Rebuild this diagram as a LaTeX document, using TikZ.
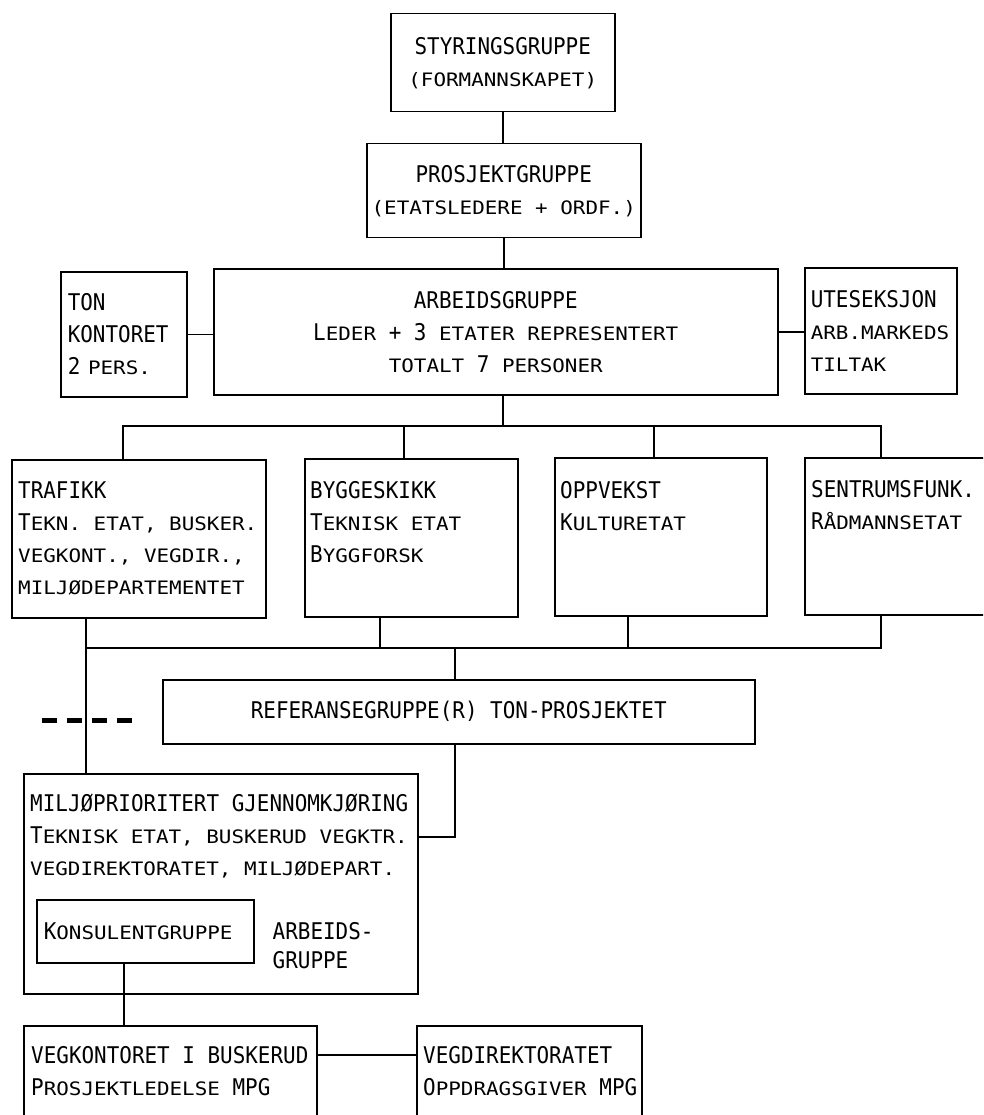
\documentclass[tikz,border=0pt]{standalone}
\usepackage{fontspec}
\setmainfont[FakeStretch=0.91]{DejaVu Sans Mono}
\newfontfamily\scfont[FakeStretch=1.13]{DejaVu Sans Mono}
\newcommand\mainsize{\fontsize{23}{32}\selectfont}
\newcommand\sm[1]{{\scfont\fontsize{18.5}{32}\selectfont #1}}
\tikzset{
  box/.style={draw,line width=1.5pt,inner sep=0pt,anchor=north west,font=\mainsize},
  txt/.style={inner sep=0pt,anchor=north west,align=left,font=\mainsize},
  link/.style={line width=1.5pt},
}
\begin{document}
\begin{tikzpicture}[x=1pt,y=-1pt]
  \useasboundingbox[fill=white] (0,0) rectangle (983,1115);
  \clip (0,0) rectangle (983,1115);
  % top groups
  \node[box,minimum width=224pt,minimum height=98pt,align=center] (styr) at (390,13) {STYRINGSGRUPPE\\\sm{(FORMANNSKAPET)}};
  \node[box,minimum width=274pt,minimum height=94pt,align=center] (prosj) at (366,143) {PROSJEKTGRUPPE\\\sm{(ETATSLEDERE + ORDF.)}};
  \node[box,minimum width=564pt,minimum height=126pt,align=center] (arb) at (213,268) {ARBEIDSGRUPPE\\L\sm{EDER} + 3 \sm{ETATER REPRESENTERT}\\\sm{TOTALT} 7 \sm{PERSONER}};
  \node[box,minimum width=126pt,minimum height=125pt,text width=112pt,align=left] (ton) at (60,271) {TON\\KONTORET\\2 \sm{PERS.}};
  \node[box,minimum width=152pt,minimum height=126pt,text width=140pt,align=left] (ute) at (804,267) {UTESEKSJON\\\sm{ARB.MARKEDS}\\\sm{TILTAK}};

  % etater
  \node[box,minimum width=254pt,minimum height=158pt] (traf) at (11,459) {};
  \node[box,minimum width=213pt,minimum height=158pt] (bygg) at (304,458) {};
  \node[box,minimum width=212pt,minimum height=158pt] (oppv) at (554,457) {};
  \node[box,minimum width=206pt,minimum height=157pt] (sentr) at (804,457) {};
  \node[txt] (trafT) at ([xshift=7pt,yshift=-17pt]traf.north west) {\strut TRAFIKK\\T\sm{EKN. ETAT, BUSKER.}\\\sm{VEGKONT., VEGDIR.,}\\\sm{MILJØDEPARTEMENTET}};
  \node[txt] (byggT) at ([xshift=6pt,yshift=-18pt]bygg.north west) {\strut BYGGESKIKK\\T\sm{EKNISK ETAT}\\B\sm{YGGFORSK}};
  \node[txt] (oppvT) at ([xshift=6pt,yshift=-19pt]oppv.north west) {\strut OPPVEKST\\K\sm{ULTURETAT}};
  \node[txt] (sentrT) at ([xshift=7pt,yshift=-18pt]sentr.north west) {\strut SENTRUMSFUNK.\\R\sm{ÅDMANNSETAT}};

  % referanse + mpg
  \node[box,minimum width=592pt,minimum height=64pt] (ref) at (162,679) {REFERANSEGRUPPE(R) TON-PROSJEKTET};
  \node[box,minimum width=394pt,minimum height=220pt] (mpg) at (23,773) {};
  \node[txt] (mpgT) at ([xshift=7pt,yshift=-16pt]mpg.north west) {\strut MILJØPRIORITERT GJENNOMKJØRING\\T\sm{EKNISK ETAT, BUSKERUD VEGKTR.}\\\sm{VEGDIREKTORATET, MILJØDEPART.}};
  \node[box,minimum width=217pt,minimum height=63pt,text width=203pt,align=left] (kons) at (36,899) {K\sm{ONSULENTGRUPPE}};
  \node[txt] (arbT) at ([xshift=18pt,yshift=-18pt]kons.north east) {\strut ARBEIDS-\\[-3pt]GRUPPE};

  % bottom
  \node[box,minimum width=293pt,minimum height=130pt] (vegk) at (23,1025) {};
  \node[box,minimum width=225pt,minimum height=130pt] (vegd) at (416,1025) {};
  \node[txt] (vegkT) at ([xshift=8pt,yshift=-16pt]vegk.north west) {\strut VEGKONTORET I BUSKERUD\\P\sm{ROSJEKTLEDELSE} MPG};
  \node[txt] (vegdT) at ([xshift=7pt,yshift=-16pt]vegd.north west) {\strut VEGDIREKTORATET\\O\sm{PPDRAGSGIVER} MPG};

  % links
  \draw[link] (styr.south) -- (styr.south |- prosj.north);
  \draw[link] (prosj.south) -- (prosj.south |- arb.north);
  \draw[link] (ton.east) -- (ton.east -| arb.west);
  \draw[link] (arb.east) -- (arb.east -| ute.west);
  \coordinate (busT) at (503,426);
  \draw[link] (busT |- arb.south) -- (busT);
  \draw[link] ([xshift=112pt]traf.north west) |- (busT) -| ([xshift=77pt]sentr.north west);
  \foreach \n/\d in {bygg/100,oppv/100}
    \draw[link] ([xshift=\d pt]\n.north west) |- (busT);
  \coordinate (busR) at (455,648);
  \coordinate (trafL) at ([xshift=75pt]traf.south west);
  \draw[link] (trafL) -- (trafL |- mpg.north);
  \draw[link] (busR -| trafL) -- (busR);
  \foreach \n/\d in {bygg/76,oppv/74,sentr/77}
    \draw[link] ([xshift=\d pt]\n.south west) |- (busR);
  \draw[link] (busR) -- (busR |- ref.north);
  \draw[link] (busR |- ref.south) |- ([yshift=-64pt]mpg.north east);
  \draw[link] ([xshift=88pt]kons.south west) -- ([xshift=101pt]vegk.north west);
  \draw[link] ([yshift=-30pt]vegk.north east) -- ([yshift=-30pt]vegd.north west);
  % dashes
  \draw[line width=5pt,dash pattern=on 15pt off 10pt] (42,720) -- (132,720);
\end{tikzpicture}
\end{document}
